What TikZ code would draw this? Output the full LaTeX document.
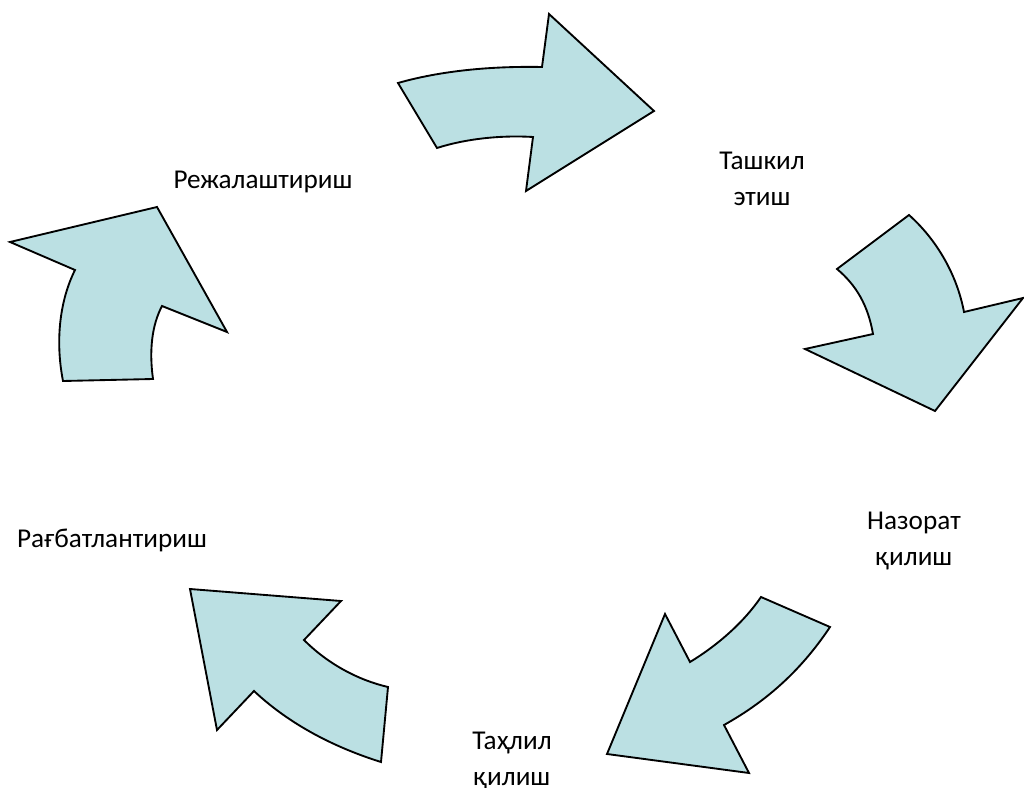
\documentclass[tikz,border=0pt]{standalone}
\usepackage{fontspec}
\setmainfont{Carlito}
\definecolor{arrowfill}{RGB}{187,224,227}
\tikzset{
  bigarrow/.style={draw=black, fill=arrowfill, line width=1.4pt, line join=miter},
  lbl/.style={font=\fontsize{20.4}{27}\selectfont, align=center, inner sep=0pt, anchor=base}
}
\begin{document}
\begin{tikzpicture}[x=0.75pt, y=-0.75pt]
\useasboundingbox (0,0) rectangle (1024,788);
% top arrow
\path[bigarrow] (398,83) .. controls (440,71) and (490,66) .. (542,67)
  -- (549,14) -- (654,111) -- (526,191) -- (533,137)
  .. controls (500,135) and (465,139) .. (437,148) -- cycle;
% right arrow
\path[bigarrow] (909,215) .. controls (937,240) and (957,275) .. (964,312)
  -- (1023,298) -- (935,411) -- (805,349) -- (873,334)
  .. controls (868,305) and (856,285) .. (837,269) -- cycle;
% bottom right arrow
\path[bigarrow] (830,627) .. controls (800,672) and (765,702) .. (724,725)
  -- (749,773) -- (607,754) -- (665,614) -- (690,662)
  .. controls (718,645) and (744,622) .. (761,597) -- cycle;
% bottom left arrow
\path[bigarrow] (381,762) .. controls (330,746) and (287,722) .. (254,691)
  -- (217,730) -- (190,589) -- (341,601) -- (304,640)
  .. controls (328,664) and (358,680) .. (388,687) -- cycle;
% left arrow
\path[bigarrow] (63,381) .. controls (55,340) and (60,300) .. (75,270)
  -- (10,242) -- (157,207) -- (227,332) -- (162,306)
  .. controls (152,325) and (149,350) .. (153,379) -- cycle;
% labels
\node[lbl] (plan) at (263,189) {Режалаштириш};
\node[lbl] (org) at (762,205) {Ташкил\\этиш};
\node[lbl] (ctrl) at (914,565) {Назорат\\қилиш};
\node[lbl] (anal) at (512,785) {Таҳлил\\қилиш};
\node[lbl] (motiv) at (112,547) {Рағбатлантириш};
\end{tikzpicture}
\end{document}
